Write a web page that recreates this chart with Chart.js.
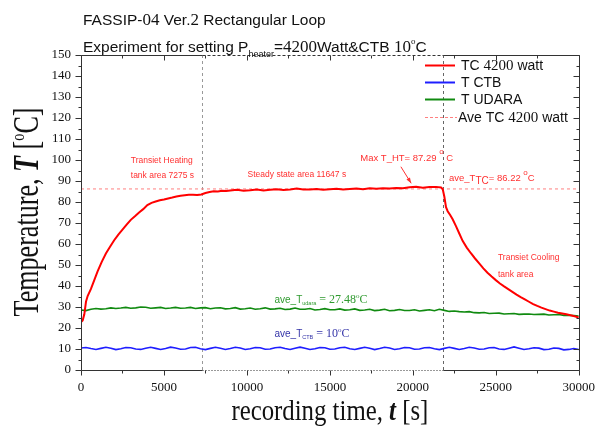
<!DOCTYPE html>
<html>
<head>
<meta charset="utf-8">
<script src="https://cdn.jsdelivr.net/npm/chart.js@4"></script>
<style>
  body { margin: 0; background: #fff; }
  #wrap { width: 605px; height: 429px; }
</style>
</head>
<body>
<div id="wrap"><canvas id="chart" width="605" height="429"></canvas></div>
<script>
// sampled every 300 s (T CTB, T UDARA)
const timeSec = [0,300,600,900,1200,1500,1800,2100,2400,2700,3000,3300,3600,3900,4200,4500,4800,5100,5400,5700,
  6000,6300,6600,6900,7200,7500,7800,8100,8400,8700,9000,9300,9600,9900,10200,10500,10800,11100,11400,11700,
  12000,12300,12600,12900,13200,13500,13800,14100,14400,14700,15000,15300,15600,15900,16200,16500,16800,17100,17400,17700,
  18000,18300,18600,18900,19200,19500,19800,20100,20400,20700,21000,21300,21600,21900,22200,22500,22800,23100,23400,23700,
  24000,24300,24600,24900,25200,25500,25800,26100,26400,26700,27000,27300,27600,27900,28200,28500,28800,29100,29400,29700,30000];
const ctbTemp = [10.5,10.7,10.2,9.8,10.3,10.8,10.4,9.7,10.1,10.7,
  10.6,10.0,9.8,10.4,10.8,10.3,9.8,10.2,10.9,10.5,
  9.9,10.0,10.7,10.8,10.1,9.7,10.3,10.8,10.4,9.8,
  10.2,10.8,10.5,9.8,10.1,10.7,10.6,9.9,10.0,10.6,
  10.8,10.2,9.8,10.4,10.9,10.4,9.8,10.1,10.7,10.6,
  9.9,10.0,10.6,10.8,10.1,9.8,10.3,10.8,10.4,9.7,
  10.2,10.8,10.5,9.8,10.1,10.7,10.6,9.9,10.0,10.6,
  10.7,10.1,9.7,10.3,10.8,10.3,9.8,10.2,10.8,10.5,
  9.9,10.0,10.6,10.7,10.0,9.8,10.4,11.0,10.4,9.8,
  10.1,10.6,10.4,9.7,9.9,10.5,10.3,9.6,9.8,10.2,9.8];
const udaraTemp = [28.6,28.3,28.9,29.3,29.0,29.2,29.6,29.3,29.5,29.8,
  29.4,29.6,30.0,29.9,29.4,29.6,29.8,29.3,29.5,29.8,
  29.4,29.5,29.8,29.3,29.6,29.7,29.2,29.5,29.6,29.1,
  29.3,29.7,29.0,29.2,29.5,28.9,29.2,29.6,29.0,29.1,
  29.4,28.8,29.0,29.5,28.9,28.9,29.3,28.6,28.8,29.2,
  28.7,28.7,29.1,28.5,28.7,29.1,28.4,28.6,28.9,28.3,
  28.5,28.9,28.2,28.4,28.8,28.3,28.3,28.7,28.1,28.4,
  28.7,28.2,28.9,28.4,27.9,28.1,27.8,27.6,27.8,27.3,
  27.2,27.4,26.9,27.0,27.1,26.7,26.8,26.9,26.5,26.6,
  26.7,26.4,26.5,26.6,26.2,26.3,26.4,26.0,26.1,25.9,25.7];

// TC 4200 watt, own sampling
const tcTime = [0,100,200,300,400,600,800,1000,1250,1500,1750,2000,2250,2500,2750,3000,3250,3500,3750,4000,
  4250,4500,4750,5000,5250,5500,5750,6000,6250,6500,6750,7000,7250,7500,7750,8000,8250,8500,8750,9000,
  9400,9800,10200,10600,11000,11400,11800,12200,12600,13000,13400,13800,14200,14600,15000,15400,15800,16200,16600,17000,
  17400,17800,18200,18600,19000,19400,19800,20200,20600,21000,21400,21700,21800,21900,22000,22100,22250,22400,22600,22800,
  23000,23250,23500,23750,24000,24250,24500,24750,25000,25250,25500,25750,26000,26250,26500,26750,27000,27250,27500,27750,
  28000,28250,28500,28750,29000,29250,29500,29750,30000];
const tcTemp = [22.8,23.6,26.5,32.5,35.2,38.6,42.8,47.0,51.5,55.5,58.7,61.8,64.5,66.8,69.2,71.5,73.2,75.0,76.6,78.5,
  79.6,80.2,80.8,81.2,81.7,82.1,82.6,83.0,83.2,83.4,83.4,83.3,83.6,84.3,84.8,85.1,85.0,85.4,85.2,85.5,
  85.8,85.4,85.6,85.9,85.5,85.8,86.1,85.7,86.0,86.4,86.0,85.9,86.2,85.8,86.1,86.3,85.9,86.2,86.4,86.1,
  86.5,86.3,86.6,86.4,86.7,86.5,87.0,87.29,86.8,87.1,87.2,86.9,86.2,82.5,77.5,75.6,73.8,71.8,68.5,65.0,
  61.5,58.3,55.6,53.1,50.8,48.4,46.3,44.5,42.8,41.2,39.8,38.5,37.2,35.9,34.7,33.6,32.5,31.4,30.5,29.7,
  29.0,28.3,27.8,27.3,26.9,26.5,26.1,25.6,25.0];

const aveTC = 86.22;
const heatEnd = 7275;     // end of transient heating
const coolStart = 21800;  // start of transient cooling
const seriesNames = ["TC 4200 watt", "T CTB", "T UDARA", "Ave TC 4200 watt"];
const seriesColors = ["#ff0000", "#1e1eff", "#108a10", "#ff8080"];

const SANS = '"Liberation Sans", Arial, sans-serif';
const SERIF = '"Liberation Serif", "Times New Roman", serif';

function pts(xs, ys) { return xs.map((x, i) => ({x: x, y: ys[i]})); }

// draw pieces of text one after another, returns end x
function drawRuns(ctx, x, y, runs) {
  for (const r of runs) {
    ctx.font = r.f;
    ctx.fillText(r.t, x, y + (r.dy || 0));
    x += ctx.measureText(r.t).width;
  }
  return x;
}
function runsWidth(ctx, runs) {
  let w = 0;
  for (const r of runs) { ctx.font = r.f; w += ctx.measureText(r.t).width; }
  return w;
}

const annotations = [
  {at: [3000, 98.6], color: "#ff3030", runs: [{t: "Transiet Heating", f: "8.5px " + SANS}]},
  {at: [3000, 91.4], color: "#ff3030", runs: [{t: "tank area 7275 s", f: "8.5px " + SANS}]},
  {at: [10040, 91.9], color: "#ff3030", runs: [{t: "Steady state area 11647 s", f: "8.5px " + SANS}]},
  {at: [16830, 99.5], color: "#ff3030", runs: [{t: "Max T_HT= 87.29 ", f: "9.5px " + SANS},
    {t: "o", f: "8px " + SANS, dy: -7}, {t: " C", f: "9.5px " + SANS}]},
  {at: [22180, 90.0], color: "#ff3030", runs: [{t: "ave_T", f: "9.5px " + SANS},
    {t: "TC", f: "10px " + SANS, dy: 3}, {t: "= 86.22 ", f: "9.5px " + SANS},
    {t: "o", f: "8px " + SANS, dy: -6}, {t: "C", f: "9.5px " + SANS}]},
  {at: [25130, 52.4], color: "#ff3030", runs: [{t: "Transiet Cooling", f: "8.5px " + SANS}]},
  {at: [25130, 44.3], color: "#ff3030", runs: [{t: "tank area", f: "8.5px " + SANS}]},
  {at: [11660, 31.9], color: "#2f9a2f", runs: [{t: "ave_T", f: "10px " + SANS},
    {t: "udara", f: "5.5px " + SANS, dy: 2}, {t: " = 27.48", f: "12px " + SERIF},
    {t: "o", f: "7px " + SERIF, dy: -5}, {t: "C", f: "12px " + SERIF}]},
  {at: [11660, 15.7], color: "#3434a8", runs: [{t: "ave_T", f: "10px " + SANS},
    {t: "CTB", f: "5.5px " + SANS, dy: 2}, {t: " = 10", f: "12px " + SERIF},
    {t: "o", f: "7px " + SERIF, dy: -5}, {t: "C", f: "12px " + SERIF}]}
];
const maxArrow = {from: [19280, 96.8], to: [19900, 88.9]};

const decorPlugin = {
  id: "decor",
  beforeDatasetsDraw(chart) {
    const ctx = chart.ctx, a = chart.chartArea;
    const xs = chart.scales.x;
    ctx.save();
    // vertical dashed lines of the steady-state box
    ctx.lineWidth = 1;
    ctx.setLineDash([3, 3]);
    [[heatEnd, "#999"], [coolStart, "#666"]].forEach(([t, c]) => {
      const px = Math.round(xs.getPixelForValue(t)) + 0.5;
      ctx.strokeStyle = c;
      ctx.beginPath(); ctx.moveTo(px, a.top); ctx.lineTo(px, a.bottom); ctx.stroke();
    });
    ctx.restore();
  },
  afterDatasetsDraw(chart) {
    const ctx = chart.ctx, a = chart.chartArea;
    const xs = chart.scales.x, ys = chart.scales.y;
    const L = Math.round(a.left) + 0.5, R = Math.round(a.right) + 0.5;
    const T = Math.round(a.top) + 0.5, B = Math.round(a.bottom) + 0.5;
    const x1 = Math.round(xs.getPixelForValue(heatEnd)) + 0.5;
    const x2 = Math.round(xs.getPixelForValue(coolStart)) + 0.5;
    ctx.save();
    ctx.strokeStyle = "#333";
    ctx.lineWidth = 1;
    // frame
    ctx.beginPath();
    ctx.moveTo(L, T); ctx.lineTo(x1, T);
    ctx.moveTo(x2, T); ctx.lineTo(R, T); ctx.lineTo(R, B); ctx.lineTo(x2, B);
    ctx.moveTo(x1, B); ctx.lineTo(L, B); ctx.lineTo(L, T);
    ctx.stroke();
    ctx.setLineDash([3, 2]);
    ctx.beginPath(); ctx.moveTo(x1, T); ctx.lineTo(x2, T); ctx.stroke();
    ctx.setLineDash([1, 2]);
    ctx.beginPath(); ctx.moveTo(x1, B); ctx.lineTo(x2, B); ctx.stroke();
    ctx.setLineDash([]);
    // ticks: left/bottom outward, top/right inward
    ctx.beginPath();
    for (let v = ys.min; v <= ys.max; v += 5) {
      const py = Math.round(ys.getPixelForValue(v)) + 0.5;
      const len = v % 10 === 0 ? 6 : 3;
      ctx.moveTo(L - len, py); ctx.lineTo(L, py);
      ctx.moveTo(R - len, py); ctx.lineTo(R, py);
    }
    for (let v = xs.min; v <= xs.max; v += 2500) {
      const px = Math.round(xs.getPixelForValue(v)) + 0.5;
      const len = v % 5000 === 0 ? 5 : 3;
      ctx.moveTo(px, B); ctx.lineTo(px, B + len);
      ctx.moveTo(px, T); ctx.lineTo(px, T + len);
    }
    ctx.stroke();

    // annotations
    ctx.textBaseline = "alphabetic";
    ctx.textAlign = "left";
    for (const an of annotations) {
      ctx.fillStyle = an.color;
      drawRuns(ctx, xs.getPixelForValue(an.at[0]), ys.getPixelForValue(an.at[1]), an.runs);
    }
    // arrow to the maximum
    const ax0 = xs.getPixelForValue(maxArrow.from[0]), ay0 = ys.getPixelForValue(maxArrow.from[1]);
    const ax1 = xs.getPixelForValue(maxArrow.to[0]), ay1 = ys.getPixelForValue(maxArrow.to[1]);
    ctx.strokeStyle = "#ff3030"; ctx.fillStyle = "#ff3030"; ctx.lineWidth = 1;
    ctx.beginPath(); ctx.moveTo(ax0, ay0); ctx.lineTo(ax1, ay1); ctx.stroke();
    const ang = Math.atan2(ay1 - ay0, ax1 - ax0);
    ctx.beginPath();
    ctx.moveTo(ax1, ay1);
    ctx.lineTo(ax1 - 6 * Math.cos(ang - 0.35), ay1 - 6 * Math.sin(ang - 0.35));
    ctx.lineTo(ax1 - 6 * Math.cos(ang + 0.35), ay1 - 6 * Math.sin(ang + 0.35));
    ctx.closePath(); ctx.fill();

    // legend
    const rows = [65, 82, 99, 117];
    chart.data.datasets.forEach((ds, i) => {
      const y = rows[i];
      ctx.strokeStyle = ds.borderColor;
      ctx.lineWidth = i === 3 ? 1 : 2;
      ctx.setLineDash(i === 3 ? [3, 2] : []);
      ctx.beginPath(); ctx.moveTo(425, y + 0.5); ctx.lineTo(i === 3 ? 457 : 455, y + 0.5); ctx.stroke();
      ctx.setLineDash([]);
      ctx.fillStyle = "#111";
      const parts = ds.label.split(/(4200)/).filter(s => s !== "");
      drawRuns(ctx, i === 3 ? 458 : 461, y + 5, parts.map(p => ({t: p, f: (p === "4200" ? "15px " + SERIF : "14px " + SANS)})));
    });

    // titles
    ctx.fillStyle = "#111";
    drawRuns(ctx, 83, 25, [
      {t: "FASSIP-", f: "15.5px " + SANS}, {t: "04", f: "17px " + SERIF},
      {t: " Ver.", f: "15.5px " + SANS}, {t: "2", f: "17px " + SERIF},
      {t: " Rectangular Loop", f: "15.5px " + SANS}]);
    drawRuns(ctx, 83, 52, [
      {t: "Experiment for setting P", f: "15.5px " + SANS},
      {t: "heater", f: "9px " + SANS, dy: 5},
      {t: "=", f: "15.5px " + SANS}, {t: "4200", f: "17px " + SERIF},
      {t: "Watt&CTB ", f: "15.5px " + SANS}, {t: "10", f: "17px " + SERIF},
      {t: "o", f: "9px " + SERIF, dy: -8}, {t: "C", f: "15.5px " + SANS}]);

    // x axis title
    const xRuns = [{t: "recording time, ", f: "25px " + SERIF}, {t: "t", f: "italic bold 25px " + SERIF},
      {t: " [s]", f: "25px " + SERIF}];
    const xw = runsWidth(ctx, xRuns);
    ctx.save();
    ctx.translate((a.left + a.right) / 2, 420);
    ctx.scale(197 / xw, 1.2);
    drawRuns(ctx, -xw / 2, 0, xRuns);
    ctx.restore();

    // y axis title
    const yRuns = [{t: "Temperature, ", f: "22px " + SERIF}, {t: "T", f: "italic bold 22px " + SERIF},
      {t: " [", f: "22px " + SERIF}, {t: "o", f: "12px " + SERIF, dy: -9}, {t: "C]", f: "22px " + SERIF}];
    const yw = runsWidth(ctx, yRuns);
    ctx.save();
    ctx.translate(38, 212);
    ctx.rotate(-Math.PI / 2);
    ctx.scale(209 / yw, 1.6);
    drawRuns(ctx, -yw / 2, 0, yRuns);
    ctx.restore();

    ctx.restore();
  }
};

new Chart(document.getElementById("chart"), {
  type: "line",
  data: {
    datasets: [
      {label: seriesNames[0], data: pts(tcTime, tcTemp), borderColor: seriesColors[0], borderWidth: 2},
      {label: seriesNames[1], data: pts(timeSec, ctbTemp), borderColor: seriesColors[1], borderWidth: 1.6},
      {label: seriesNames[2], data: pts(timeSec, udaraTemp), borderColor: seriesColors[2], borderWidth: 1.6},
      {label: seriesNames[3], data: [{x: 0, y: aveTC}, {x: 30000, y: aveTC}], borderColor: seriesColors[3],
        borderWidth: 1, borderDash: [3, 3]}
    ]
  },
  options: {
    responsive: false,
    animation: false,
    events: [],
    layout: {padding: {left: 0, right: 25, top: 55, bottom: 0}},
    elements: {point: {radius: 0}, line: {tension: 0, fill: false}},
    plugins: {legend: {display: false}, title: {display: false}, tooltip: {enabled: false}},
    scales: {
      x: {
        type: "linear", min: 0, max: 30000,
        grid: {display: false, drawTicks: false},
        border: {display: false},
        ticks: {stepSize: 5000, padding: 10, color: "#111", maxRotation: 0,
          font: {family: SERIF, size: 13}, callback: v => String(v)},
        afterFit(scale) { scale.height = 59; }
      },
      y: {
        min: 0, max: 150,
        grid: {display: false, drawTicks: false},
        border: {display: false},
        ticks: {stepSize: 10, padding: 10, color: "#111", font: {family: SERIF, size: 13}},
        afterFit(scale) { scale.width = 81; }
      }
    }
  },
  plugins: [decorPlugin]
});
</script>
</body>
</html>
